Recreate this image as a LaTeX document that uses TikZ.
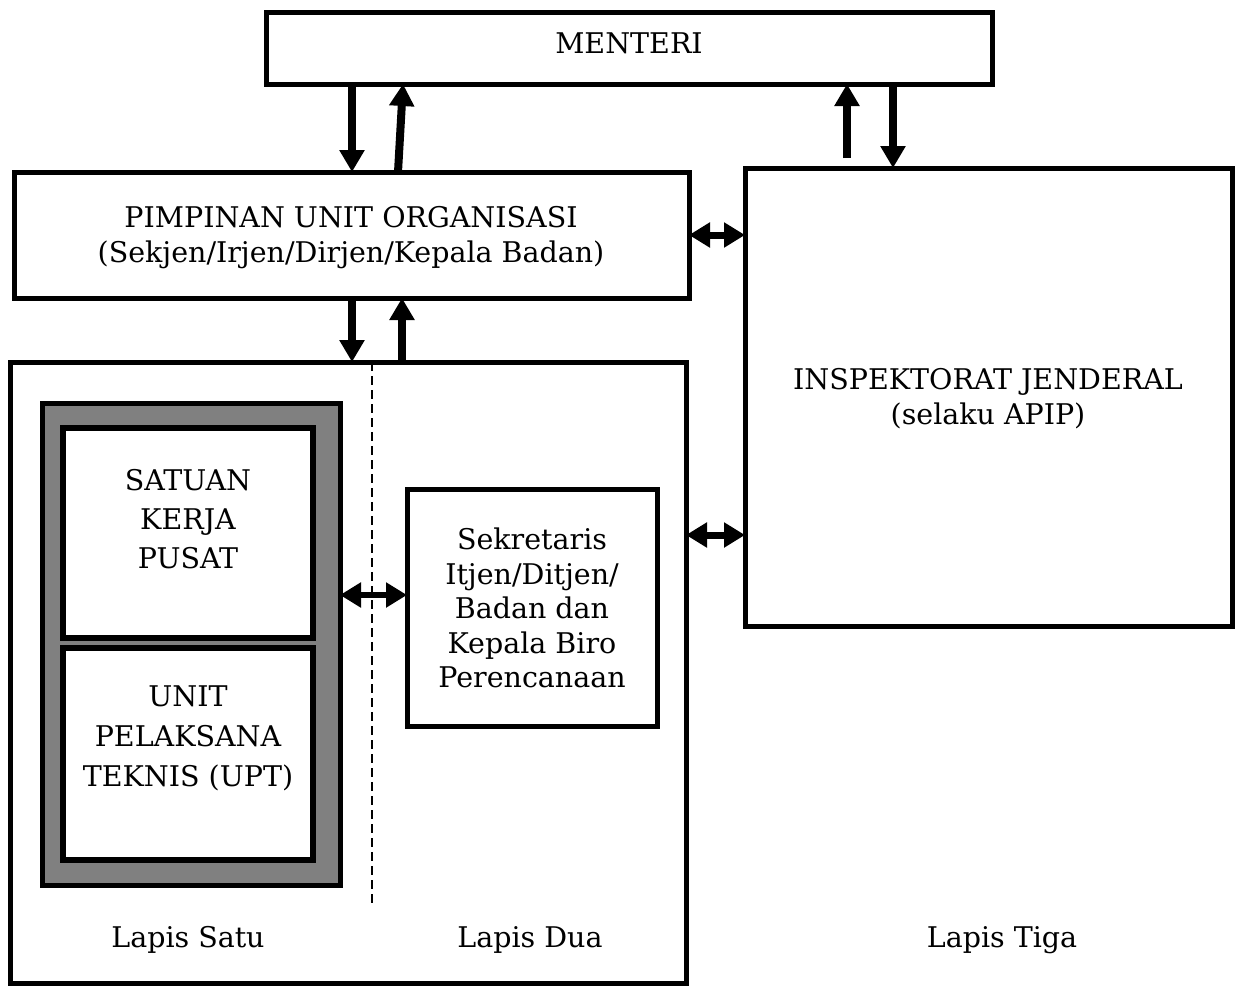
\documentclass[tikz,border=0pt]{standalone}
\usepackage{fontspec}
\setmainfont{DejaVu Serif}
\usetikzlibrary{arrows.meta,calc}
\begin{document}
\begin{tikzpicture}[x=1pt,y=-1pt,
  box/.style={draw,line width=5pt,rectangle,inner sep=0pt,outer sep=0pt,fill=white,align=center},
  inbox/.style={box,line width=6pt},
  varr/.style={line width=8pt,-{Triangle[width=24pt,length=22pt]}},
  harr/.style={line width=7pt,{Triangle[width=24pt,length=21pt]}-{Triangle[width=24pt,length=21pt]}},
  lbl/.style={font=\fontsize{28.5}{35}\selectfont,inner sep=0pt}
]
\useasboundingbox (0,0) rectangle (1237,986);
% boxes
\node[box,minimum width=726pt,minimum height=72pt] (menteri) at (629,48) {};
\node[lbl] at (629,43) {MENTERI};
\node[box,minimum width=675pt,minimum height=126pt] (pimpinan) at (351.5,235) {};
\node[lbl,align=center] at (351,238) {PIMPINAN UNIT ORGANISASI\\(Sekjen/Irjen/Dirjen/Kepala Badan)};
\node[box,minimum width=676pt,minimum height=621pt] (lapis) at (348,672.5) {};
\node[box,minimum width=487pt,minimum height=458pt] (itjen) at (988.5,397) {};
\node[lbl,align=center] at (988,399) {INSPEKTORAT JENDERAL\\(selaku APIP)};
% dashed divider
\coordinate (dtop) at (372,362);
\coordinate (dbot) at (372,905);
\draw[line width=2pt,dash pattern=on 9pt off 5pt] (dtop) -- (dbot);
% gray frame
\node[box,fill=black!50,minimum width=298pt,minimum height=482pt] (gray) at (191,644) {};
\node[inbox,minimum width=250pt,minimum height=210pt] (satker) at (188,533) {};
\node[lbl,align=center,font=\fontsize{28.5}{39}\selectfont] at (188,519) {SATUAN\\KERJA\\PUSAT};
\node[inbox,minimum width=250pt,minimum height=212pt] (upt) at (188,754) {};
\node[lbl,align=center,font=\fontsize{28.5}{40}\selectfont] at (188,738) {UNIT\\PELAKSANA\\TEKNIS (UPT)};
\node[box,minimum width=250pt,minimum height=237pt] (sekr) at (532,607.5) {};
\node[lbl,align=center,font=\fontsize{28.5}{34.5}\selectfont] at (532,608) {Sekretaris\\Itjen/Ditjen/\\Badan dan\\Kepala Biro\\Perencanaan};
% layer labels
\node[lbl] (l1) at (188,940) {Lapis Satu};
\node[lbl] (l2) at (530,940) {Lapis Dua};
\node[lbl] (l3) at (1002,940) {Lapis Tiga};
% vertical arrows
\draw[varr] ([xshift=86pt]menteri.south west) -- ([xshift=338pt]pimpinan.north west);
\draw[varr] ([xshift=384pt]pimpinan.north west) -- ([xshift=137pt]menteri.south west);
\coordinate (iup) at (847,158);
\draw[varr] (iup) -- ([xshift=581pt]menteri.south west);
\draw[varr] ([xshift=627pt]menteri.south west) -- ([xshift=148pt]itjen.north west);
\draw[varr] ([xshift=338pt]pimpinan.south west) -- ([xshift=342pt]lapis.north west);
\draw[varr] ([xshift=392pt]lapis.north west) -- ([xshift=388pt]pimpinan.south west);
% horizontal arrows
\draw[harr] (pimpinan.east) -- (pimpinan.east -| itjen.west);
\draw[harr] ([yshift=-173pt]lapis.north east) -- ([yshift=-173pt]lapis.north east -| itjen.west);
\draw[harr,line width=6pt] (gray.east |- 0,595) -- (sekr.west |- 0,595);
\end{tikzpicture}
\end{document}
